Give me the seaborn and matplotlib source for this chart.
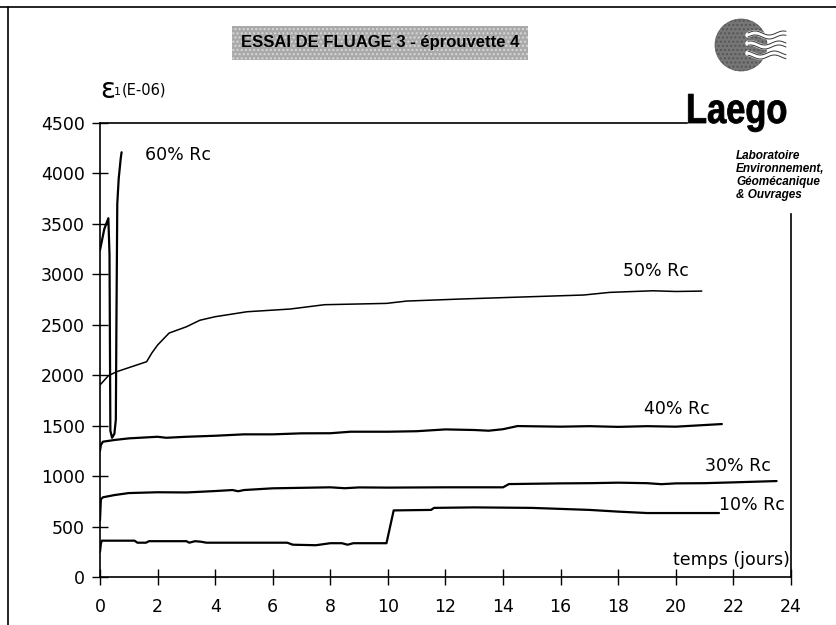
import numpy as np
import pandas as pd
import matplotlib
matplotlib.use("Agg")
import matplotlib.pyplot as plt
from matplotlib.lines import Line2D
from matplotlib.patches import Circle, PathPatch
from matplotlib.textpath import TextPath
from matplotlib.font_manager import FontProperties
from matplotlib.transforms import Affine2D, IdentityTransform
import seaborn as sns

# creep curves (time in days, strain in E-06)
t10 = [0, 0.03, 0.06, 1.2, 1.3, 1.6, 1.7, 3.0, 3.1, 3.3, 3.5, 3.7, 6.5, 6.7, 7.5,
       8.0, 8.4, 8.6, 8.8, 9.95, 10.2, 11.5, 11.6, 13.0, 15.0, 16.0, 17.0, 18.0, 19.0, 21.5]
v10 = [250, 330, 360, 360, 340, 340, 355, 355, 340, 355, 350, 340, 340, 320, 315,
       335, 335, 320, 335, 335, 660, 665, 685, 690, 685, 675, 665, 648, 634, 634]

t30 = [0, 0.03, 0.1, 0.5, 1.0, 2.0, 3.0, 3.5, 4.0, 4.6, 4.8, 5.0, 6.0, 8.0, 8.5,
       9.0, 10.0, 12.0, 14.0, 14.2, 16.0, 17.0, 18.0, 19.0, 19.5, 20.0, 21.0, 22.0, 23.5]
v30 = [560, 770, 790, 812, 832, 840, 838, 845, 852, 862, 850, 862, 879, 889, 880,
       888, 886, 889, 889, 921, 928, 930, 935, 930, 920, 928, 930, 938, 951]

t40 = [0, 0.03, 0.1, 0.5, 1.0, 2.0, 2.3, 3.0, 4.0, 5.0, 6.0, 7.0, 8.0, 8.7, 10.0,
       11.0, 12.0, 13.0, 13.5, 14.0, 14.5, 16.0, 17.0, 18.0, 19.0, 20.0, 21.6]
v40 = [1250, 1308, 1341, 1358, 1374, 1390, 1380, 1390, 1400, 1414, 1414, 1424, 1425, 1440, 1440,
       1445, 1463, 1457, 1450, 1465, 1496, 1490, 1495, 1488, 1495, 1490, 1516]

t50 = [0, 0.29, 0.58, 1.0, 1.62, 1.8, 2.0, 2.4, 3.0, 3.47, 4.0, 5.1, 6.6, 7.8, 9.95,
       10.65, 12.5, 14.3, 16.8, 17.7, 19.2, 20.0, 20.9]
v50 = [1903, 1995, 2035, 2075, 2134, 2220, 2299, 2418, 2480, 2545, 2580, 2629, 2656, 2699, 2712,
       2735, 2755, 2772, 2795, 2821, 2837, 2830, 2834]

t60 = [0, 0.15, 0.29, 0.33, 0.36, 0.42, 0.5, 0.55, 0.57, 0.6, 0.65, 0.72, 0.75]
v60 = [3240, 3450, 3556, 3200, 1450, 1380, 1420, 1560, 2500, 3700, 3950, 4150, 4210]

series = ["10% Rc", "30% Rc", "40% Rc", "50% Rc", "60% Rc"]
label_pos = {"60% Rc": (1.56, 4182), "50% Rc": (18.15, 3032), "40% Rc": (18.9, 1665),
             "30% Rc": (21.0, 1100), "10% Rc": (21.5, 713)}

x_ticks = list(range(0, 25, 2))
y_ticks = list(range(0, 4501, 500))

frames = []
for name, t, v in zip(series, [t10, t30, t40, t50, t60], [v10, v30, v40, v50, v60]):
    frames.append(pd.DataFrame({"temps": t, "eps": v, "essai": name}))
df = pd.concat(frames, ignore_index=True)

sns.set_style("ticks")
plt.rcParams['font.family'] = ['DejaVu Sans']
plt.rcParams['text.color'] = 'black'

fig = plt.figure(figsize=(8.37, 6.25), dpi=100)
ax = fig.add_axes([100 / 837, 1 - 577 / 625, 691 / 837, 454 / 625])

sns.lineplot(data=df[df.essai != "50% Rc"], x="temps", y="eps", hue="essai",
             palette=["black"] * 4, estimator=None, sort=False, legend=False,
             linewidth=1.6, ax=ax)
sns.lineplot(data=df[df.essai == "50% Rc"], x="temps", y="eps", color="black",
             estimator=None, sort=False, legend=False, linewidth=1.1, ax=ax)

ax.set_xlim(0, 24)
ax.set_ylim(0, 4500)
ax.set_xticks(x_ticks)
ax.set_yticks(y_ticks)
ax.set_xlabel("")
ax.set_ylabel("")
ax.tick_params(direction="inout", length=12, width=1, labelsize=12.5, colors="black")
ax.tick_params(axis="x", pad=9)
ax.tick_params(axis="y", pad=5)
for s in ax.spines.values():
    s.set_color("black")
    s.set_linewidth(1.2)
ax.spines["top"].set_bounds(0, 20.4)
ax.spines["right"].set_bounds(0, 3600)
ax.patch.set_alpha(0)

for name, (x, y) in label_pos.items():
    ax.text(x, y, name, fontsize=12.5, ha="left", va="center")
ax.text(19.9, 168, "temps (jours)", fontsize=12.5, ha="left", va="center")

# y axis title
fig.text(100 / 837, 1 - 90 / 625, "ε", fontsize=20, ha="left", va="center")
fig.text(114 / 837, 1 - 92 / 625, "1", fontsize=8, ha="left", va="center")
fig.text(122 / 837, 1 - 90 / 625, "(E-06)", fontsize=10.5, ha="left", va="center")

# title box
fig.text(380 / 837, 1 - 43 / 625, "ESSAI DE FLUAGE 3 - éprouvette 4",
         fontsize=12, fontweight="bold", family=["Liberation Sans", "DejaVu Sans"],
         ha="center", va="center",
         bbox=dict(boxstyle="square,pad=0.55", facecolor="#a9a9a9",
                   edgecolor="#d8d8d8", hatch="....", linewidth=0))

# logo
lax = fig.add_axes([700 / 837, 1 - 82 / 625, 90 / 837, 70 / 625])
lax.set_xlim(0, 90)
lax.set_ylim(0, 70)
lax.set_aspect("equal")
lax.axis("off")
lax.add_patch(Circle((41, 37), 26, facecolor="#767676", edgecolor="#555555",
                     hatch="....", linewidth=0.5))
wx = np.linspace(48, 86, 60)
for k, y0 in enumerate([47, 37, 27]):
    wy = y0 + 2.0 * np.sin((wx - 48) / 4.5 + k)
    lax.plot(wx, wy, color="white", linewidth=4.0, solid_capstyle="round")
    lax.plot(wx, wy + 2.0, color="#333333", linewidth=0.7)
    lax.plot(wx, wy - 2.0, color="#333333", linewidth=0.7)

# condensed "Laego" word mark
tp = TextPath((0, 0), "Laego", size=42,
              prop=FontProperties(family="Liberation Sans", weight="bold"))
word = PathPatch(tp, facecolor="black", edgecolor="black", linewidth=0.6,
                 transform=Affine2D().scale(0.82, 1.0).translate(686, 625 - 123) + IdentityTransform())
fig.add_artist(word)

fig.text(736 / 837, 1 - 150 / 625,
         "Laboratoire\nEnvironnement,\nGéomécanique\n& Ouvrages",
         fontsize=8.5, fontweight="bold", fontstyle="italic", linespacing=1.1,
         family=["Liberation Sans", "DejaVu Sans"],
         ha="left", va="top")

# page frame
fig.add_artist(Line2D([0, 1], [1 - 7 / 625, 1 - 7 / 625], color="black", linewidth=1.2))
fig.add_artist(Line2D([8 / 837, 8 / 837], [0, 1 - 7 / 625], color="black", linewidth=1.2))

fig.savefig("out.png", dpi=100)
